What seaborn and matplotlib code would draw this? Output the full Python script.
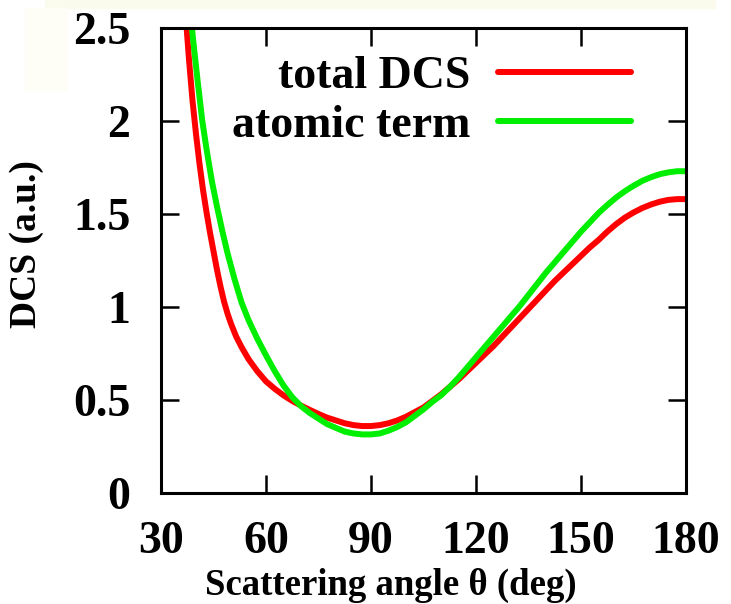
import numpy as np
import pandas as pd
import seaborn as sns
import matplotlib
matplotlib.use("Agg")
import matplotlib.pyplot as plt
from matplotlib.patches import Rectangle

# Differential cross section vs scattering angle
theta_total = [37.0, 38.0, 39.0, 40.0, 41.0, 42.0, 43.0, 44.0, 45.0, 46.0, 47.0,
               48.0, 49.0, 50.0, 51.5, 53.0, 55.0, 57.5, 60.0, 62.5, 65.0, 67.5,
               70.0, 72.5, 75.0, 77.5, 80.0, 82.5, 85.0, 87.5, 90.0, 92.5, 95.0,
               97.5, 100.0, 102.5, 105.0, 107.5, 110.0, 112.5, 115.0, 117.5,
               120.0, 122.5, 125.0, 127.5, 130.0, 132.5, 135.0, 137.5, 140.0,
               142.5, 145.0, 147.5, 150.0, 152.5, 155.0, 157.5, 160.0, 162.5,
               165.0, 167.5, 170.0, 172.5, 175.0, 177.5, 180.0]
dcs_total = [2.58, 2.33, 2.11, 1.93, 1.77, 1.63, 1.51, 1.40, 1.30, 1.20, 1.11,
             1.03, 0.965, 0.91, 0.84, 0.785, 0.72, 0.655, 0.60, 0.56, 0.525, 0.495,
             0.47, 0.447, 0.425, 0.405, 0.39, 0.375, 0.365, 0.36, 0.36, 0.365, 0.375,
             0.39, 0.41, 0.435, 0.46, 0.495, 0.53, 0.57, 0.61, 0.655,
             0.70, 0.745, 0.79, 0.84, 0.89, 0.94, 0.99, 1.04, 1.09,
             1.14, 1.185, 1.23, 1.275, 1.32, 1.36, 1.405, 1.445, 1.48,
             1.508, 1.532, 1.551, 1.566, 1.576, 1.58, 1.58]

theta_atomic = [38.5, 39.5, 40.5, 41.8, 43.0, 44.5, 46.0, 47.5, 49.0, 51.0, 53.0,
                55.0, 57.5, 60.0, 62.5, 65.0, 67.5, 70.0, 72.5, 75.0, 77.5, 80.0,
                82.5, 85.0, 87.5, 90.0, 92.5, 95.0, 97.5, 100.0, 102.5, 105.0,
                107.5, 110.0, 112.5, 115.0, 117.5, 120.0, 122.5, 125.0, 127.5,
                130.0, 132.5, 135.0, 137.5, 140.0, 142.5, 145.0, 147.5, 150.0,
                152.5, 155.0, 157.5, 160.0, 162.5, 165.0, 167.5, 170.0, 172.5,
                175.0, 177.5, 180.0]
dcs_atomic = [2.56, 2.38, 2.21, 2.00, 1.85, 1.68, 1.54, 1.41, 1.29, 1.15, 1.025,
              0.93, 0.83, 0.74, 0.655, 0.578, 0.515, 0.467, 0.43, 0.40, 0.37, 0.35,
              0.33, 0.32, 0.315, 0.315, 0.32, 0.335, 0.355, 0.38, 0.415, 0.45,
              0.49, 0.525, 0.57, 0.62, 0.675, 0.73, 0.785, 0.84, 0.895,
              0.95, 1.005, 1.065, 1.125, 1.185, 1.24, 1.295, 1.35, 1.405,
              1.455, 1.505, 1.548, 1.588, 1.622, 1.652, 1.678, 1.698, 1.714,
              1.724, 1.73, 1.73]

series_names = ["total DCS", "atomic term"]
series_colors = ["#ff0000", "#00ee00"]

x_ticks = [30, 60, 90, 120, 150, 180]
y_ticks = [0, 0.5, 1, 1.5, 2, 2.5]
y_ticklabels = ["0", "0.5", "1", "1.5", "2", "2.5"]

df = pd.concat([
    pd.DataFrame({"theta": theta_total, "dcs": dcs_total, "series": series_names[0]}),
    pd.DataFrame({"theta": theta_atomic, "dcs": dcs_atomic, "series": series_names[1]}),
], ignore_index=True)

sns.set_theme(style="white")
SERIF = ["Liberation Serif", "DejaVu Serif"]
plt.rcParams["font.family"] = SERIF
plt.rcParams["font.weight"] = "bold"
plt.rcParams["text.color"] = "black"
plt.rcParams["axes.labelcolor"] = "black"

fig = plt.figure(figsize=(7.31, 6.04), dpi=100)
fig.patch.set_facecolor("white")
# faint slide background behind the figure
fig.patches.append(Rectangle((45 / 731, 1 - 8 / 604), 670 / 731, 8 / 604,
                             transform=fig.transFigure, color="#fbfbed", zorder=0))
fig.patches.append(Rectangle((25 / 731, 1 - 90 / 604), 42 / 731, 82 / 604,
                             transform=fig.transFigure, color="#fefef7", zorder=0))

ax = fig.add_axes([161 / 731, 1 - 493 / 604, 525 / 731, 465 / 604])

sns.lineplot(data=df, x="theta", y="dcs", hue="series", palette=series_colors,
             hue_order=series_names, sort=False, estimator=None,
             linewidth=4.3, ax=ax, legend=False)
for ln in ax.get_lines():
    ln.set_solid_joinstyle("round")
    ln.set_solid_capstyle("butt")

ax.set_xlim(30, 180)
ax.set_ylim(0, 2.5)
ax.set_xticks(x_ticks)
ax.set_yticks(y_ticks)
ax.set_yticklabels(y_ticklabels)

for s in ax.spines.values():
    s.set_visible(True)
    s.set_color("black")
    s.set_linewidth(2.2)

ax.tick_params(axis="both", which="major", direction="in", length=13, width=1.8,
               color="black", top=True, right=True, bottom=True, left=True,
               labelsize=33, labelcolor="black")
ax.tick_params(axis="x", pad=20)
ax.tick_params(axis="y", pad=22)
for lab in ax.get_xticklabels() + ax.get_yticklabels():
    lab.set_fontweight("bold")
    lab.set_family(SERIF)

ax.set_xlabel("")
ax.set_ylabel("")
fig.text(391 / 731, 1 - 585 / 604, "Scattering angle θ (deg)", ha="center", va="center",
         fontsize=26.5, fontweight="bold", family=SERIF, color="black")
fig.text(27 / 731, 1 - 244 / 604, "DCS (a.u.)", ha="center", va="center",
         rotation=90, fontsize=27, fontweight="bold", family=SERIF, color="black")

handles = [plt.Line2D([], [], color=c, linewidth=4.3) for c in series_colors]
leg = ax.legend(handles, series_names, loc="upper right", frameon=False,
                markerfirst=False, handlelength=2.9, handletextpad=0.6,
                labelspacing=0.15, borderaxespad=0.0,
                prop={"family": SERIF, "weight": "bold", "size": 33},
                bbox_to_anchor=((632 - 161 + 17) / 525, (493 - 38) / 465))
for t in leg.get_texts():
    t.set_color("black")

fig.savefig("out.png", dpi=100, facecolor=fig.get_facecolor())
